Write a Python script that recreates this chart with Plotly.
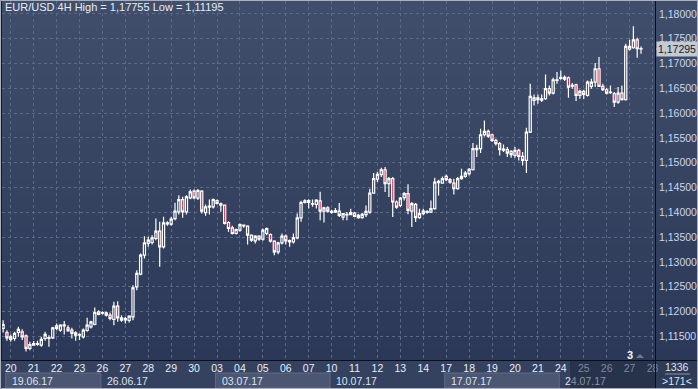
import plotly.graph_objects as go

# ---------------- data (EUR/USD, 4H bars) ----------------
opens = [1.11658, 1.11577, 1.11436, 1.11456, 1.11577, 1.11591, 1.11510, 1.11255, 1.11322, 1.11335,
         1.11322, 1.11456, 1.11456, 1.11470, 1.11711, 1.11624, 1.11711, 1.11671, 1.11624, 1.11570,
         1.11523, 1.11490, 1.11617, 1.11691, 1.11738, 1.11994, 1.11967, 1.11974, 1.11927, 1.11839,
         1.12108, 1.11873, 1.11833, 1.11819, 1.11893, 1.12498, 1.12753, 1.13136, 1.13371, 1.13392,
         1.13472, 1.13620, 1.13304, 1.13768, 1.13761, 1.13875, 1.14010, 1.14258, 1.14010, 1.14292,
         1.14426, 1.14285, 1.14426, 1.13996, 1.14104, 1.14111, 1.14238, 1.14171, 1.14144, 1.13795,
         1.13687, 1.13573, 1.13640, 1.13728, 1.13721, 1.13539, 1.13425, 1.13519, 1.13459, 1.13573,
         1.13553, 1.13419, 1.13203, 1.13385, 1.13519, 1.13432, 1.13405, 1.13486, 1.13889, 1.14232,
         1.14198, 1.14164, 1.14158, 1.14232, 1.14023, 1.14090, 1.13999, 1.14006, 1.14026, 1.13905,
         1.13946, 1.13952, 1.13986, 1.13939, 1.13892, 1.13952, 1.14006, 1.14389, 1.14671, 1.14759,
         1.14859, 1.14577, 1.14678, 1.14208, 1.14140, 1.14295, 1.14376, 1.14026, 1.14161, 1.13892,
         1.13972, 1.13999, 1.14006, 1.14073, 1.14597, 1.14591, 1.14725, 1.14658, 1.14591, 1.14476,
         1.14678, 1.14725, 1.14779, 1.14859, 1.15263, 1.15283, 1.15565, 1.15632, 1.15565, 1.15451,
         1.15384, 1.15256, 1.15263, 1.15229, 1.15148, 1.15250, 1.15128, 1.15046, 1.15619, 1.16257,
         1.16311, 1.16264, 1.16291, 1.16494, 1.16405, 1.16660, 1.16701, 1.16687, 1.16714, 1.16546,
         1.16573, 1.16358, 1.16439, 1.16358, 1.16539, 1.16627, 1.16896, 1.16539, 1.16472, 1.16412,
         1.16392, 1.16224, 1.16405, 1.16271, 1.17292, 1.17319, 1.17480, 1.17300]
highs = [1.11826, 1.11624, 1.11537, 1.11591, 1.11691, 1.11644, 1.11537, 1.11389, 1.11403, 1.11409,
         1.11490, 1.11591, 1.11523, 1.11691, 1.11759, 1.11745, 1.11806, 1.11725, 1.11671, 1.11604,
         1.11557, 1.11658, 1.11873, 1.11812, 1.12081, 1.12027, 1.12007, 1.11994, 1.11980, 1.12195,
         1.12209, 1.11927, 1.11893, 1.11927, 1.12531, 1.12834, 1.13170, 1.13519, 1.13506, 1.13539,
         1.13875, 1.13808, 1.13909, 1.13822, 1.13909, 1.14191, 1.14346, 1.14312, 1.14346, 1.14460,
         1.14460, 1.14470, 1.14447, 1.14158, 1.14258, 1.14279, 1.14258, 1.14198, 1.14158, 1.13822,
         1.13728, 1.13674, 1.13775, 1.13754, 1.13741, 1.13553, 1.13539, 1.13539, 1.13674, 1.13694,
         1.13573, 1.13439, 1.13405, 1.13573, 1.13553, 1.13452, 1.13573, 1.13976, 1.14232, 1.14265,
         1.14265, 1.14258, 1.14265, 1.14413, 1.14111, 1.14124, 1.14053, 1.14087, 1.14187, 1.13986,
         1.14006, 1.14073, 1.14006, 1.13972, 1.13986, 1.14140, 1.14476, 1.14792, 1.14812, 1.14900,
         1.14913, 1.14712, 1.14712, 1.14241, 1.14308, 1.14409, 1.14564, 1.14208, 1.14187, 1.14073,
         1.14073, 1.14040, 1.14241, 1.14698, 1.14658, 1.14725, 1.14765, 1.14691, 1.14678, 1.14712,
         1.14880, 1.14833, 1.14893, 1.15397, 1.15364, 1.15686, 1.15854, 1.15673, 1.15585, 1.15484,
         1.15417, 1.15370, 1.15316, 1.15250, 1.15316, 1.15283, 1.15216, 1.15706, 1.16593, 1.16378,
         1.16378, 1.16378, 1.16781, 1.16560, 1.16714, 1.16828, 1.16862, 1.16761, 1.16741, 1.16607,
         1.16593, 1.16472, 1.16472, 1.16660, 1.16694, 1.17010, 1.17131, 1.16593, 1.16506, 1.16560,
         1.16425, 1.16526, 1.16560, 1.17400, 1.17480, 1.17755, 1.17521, 1.17346]
lows = [1.11577, 1.11409, 1.11389, 1.11409, 1.11490, 1.11423, 1.11195, 1.11221, 1.11308, 1.11308,
        1.11288, 1.11409, 1.11288, 1.11443, 1.11624, 1.11591, 1.11537, 1.11591, 1.11456, 1.11409,
        1.11423, 1.11456, 1.11591, 1.11658, 1.11725, 1.11927, 1.11940, 1.11900, 1.11826, 1.11725,
        1.11792, 1.11792, 1.11759, 1.11779, 1.11826, 1.12431, 1.12733, 1.13069, 1.13304, 1.13351,
        1.13439, 1.12901, 1.13271, 1.13728, 1.13728, 1.13842, 1.13956, 1.13889, 1.13956, 1.14265,
        1.14265, 1.14250, 1.13976, 1.13929, 1.13956, 1.14077, 1.14158, 1.14010, 1.13754, 1.13607,
        1.13553, 1.13553, 1.13607, 1.13687, 1.13351, 1.13405, 1.13371, 1.13425, 1.13425, 1.13539,
        1.13392, 1.13136, 1.13156, 1.13351, 1.13351, 1.13304, 1.13371, 1.13459, 1.13808, 1.14178,
        1.14077, 1.14111, 1.14077, 1.13842, 1.13795, 1.13996, 1.13972, 1.13986, 1.13905, 1.13838,
        1.13838, 1.13939, 1.13905, 1.13872, 1.13872, 1.13905, 1.13972, 1.14376, 1.14611, 1.14712,
        1.14409, 1.14308, 1.13905, 1.14073, 1.14107, 1.14241, 1.13959, 1.13704, 1.13804, 1.13872,
        1.13939, 1.13972, 1.13986, 1.14053, 1.14342, 1.14577, 1.14631, 1.14577, 1.14362, 1.14456,
        1.14658, 1.14698, 1.14745, 1.14846, 1.15115, 1.15195, 1.15531, 1.15505, 1.15417, 1.15350,
        1.15148, 1.15216, 1.15115, 1.15101, 1.15101, 1.15046, 1.14947, 1.14792, 1.15599, 1.16156,
        1.16190, 1.16224, 1.16271, 1.16358, 1.16378, 1.16593, 1.16674, 1.16647, 1.16311, 1.16494,
        1.16244, 1.16291, 1.16291, 1.16338, 1.16494, 1.16526, 1.16526, 1.16445, 1.16378, 1.16392,
        1.16123, 1.16190, 1.16257, 1.16257, 1.17265, 1.17299, 1.17117, 1.17198]
closes = [1.11738, 1.11470, 1.11490, 1.11557, 1.11638, 1.11490, 1.11255, 1.11335, 1.11355, 1.11355,
          1.11436, 1.11537, 1.11476, 1.11671, 1.11658, 1.11725, 1.11732, 1.11611, 1.11557, 1.11523,
          1.11537, 1.11624, 1.11725, 1.11792, 1.11980, 1.11940, 1.11980, 1.11927, 1.11859, 1.12108,
          1.11873, 1.11826, 1.11859, 1.11907, 1.12478, 1.12767, 1.13136, 1.13385, 1.13439, 1.13486,
          1.13620, 1.13304, 1.13788, 1.13788, 1.13862, 1.14023, 1.14258, 1.14010, 1.14312, 1.14413,
          1.14292, 1.14440, 1.14023, 1.14111, 1.14124, 1.14258, 1.14178, 1.14144, 1.13775, 1.13674,
          1.13573, 1.13654, 1.13754, 1.13741, 1.13539, 1.13439, 1.13519, 1.13459, 1.13640, 1.13674,
          1.13419, 1.13203, 1.13385, 1.13519, 1.13425, 1.13405, 1.13486, 1.13889, 1.14198, 1.14198,
          1.14238, 1.14178, 1.14245, 1.14023, 1.14090, 1.14023, 1.14019, 1.14033, 1.13939, 1.13972,
          1.13959, 1.13993, 1.13919, 1.13892, 1.13959, 1.14019, 1.14389, 1.14678, 1.14765, 1.14859,
          1.14577, 1.14678, 1.14208, 1.14107, 1.14288, 1.14376, 1.14040, 1.14174, 1.13892, 1.13972,
          1.14026, 1.14019, 1.14073, 1.14611, 1.14624, 1.14678, 1.14658, 1.14611, 1.14476, 1.14678,
          1.14725, 1.14792, 1.14866, 1.15283, 1.15292, 1.15565, 1.15632, 1.15538, 1.15451, 1.15384,
          1.15263, 1.15276, 1.15195, 1.15162, 1.15250, 1.15128, 1.15046, 1.15619, 1.16338, 1.16311,
          1.16271, 1.16291, 1.16494, 1.16405, 1.16674, 1.16674, 1.16721, 1.16721, 1.16526, 1.16560,
          1.16358, 1.16439, 1.16378, 1.16627, 1.16627, 1.16896, 1.16539, 1.16472, 1.16405, 1.16425,
          1.16224, 1.16405, 1.16271, 1.17346, 1.17346, 1.17480, 1.17299, 1.17295]

day_labels = ["20", "21", "22", "23", "26", "27", "28", "29", "30", "03", "04", "05", "06", "07",
              "10", "11", "12", "13", "14", "17", "18", "19", "20", "21", "24", "25", "26", "27", "28"]
week_labels = ["19.06.17", "26.06.17", "03.07.17", "10.07.17", "17.07.17", "24.07.17"]
week_start_day = [None, 4, 9, 14, 19, 24]     # index in day_labels of each Monday
price_ticks = [1.115 + 0.005 * k for k in range(14)]
symbol = "EUR/USD"
timeframe = "4H"
bars_per_day = 6
first_day_bar = 2          # bars shown before the first labelled day (19.06 16:00, 20:00)
future_day = 25            # day labels from here on lie beyond the last bar
bar_count_text = "1336"
visible_bars_text = ">171<"
marker_text = "3"

# ---------------- geometry helpers (pixels -> paper) ----------------
W, H = 698, 389
PL, PR, PT, PB = 2, 655, 1, 360


def px(x):
    return (x - PL) / (PR - PL)


def py(y):
    return (PB - y) / (PB - PT)


def fmt(v):
    return f"{v:.5f}".replace(".", ",")


n = len(opens)
xs = list(range(n))
FONT = "Liberation Sans Narrow, Liberation Sans, Arial, sans-serif"

fig = go.Figure()
fig.add_trace(go.Candlestick(
    x=xs, open=opens, high=highs, low=lows, close=closes,
    increasing=dict(line=dict(color="#ffffff", width=1.2), fillcolor="rgba(0,0,0,0)"),
    decreasing=dict(line=dict(color="#ffffff", width=1.2), fillcolor="#e3173e"),
    whiskerwidth=0, hoverinfo="skip", showlegend=False,
))

shapes = []
# vertical gradient background
N = 60
top = (64, 78, 107)
bot = (43, 56, 87)
for j in range(N):
    t = j / (N - 1)
    c = tuple(round(top[k] + (bot[k] - top[k]) * t) for k in range(3))
    y0 = j * 360 / N
    y1 = (j + 1) * 360 / N + 0.5
    shapes.append(dict(type="rect", xref="paper", yref="paper", layer="below",
                       x0=px(0), x1=px(W), y0=py(y1), y1=py(y0),
                       fillcolor="rgb(%d,%d,%d)" % c, line=dict(width=0)))
# bottom rows background
shapes.append(dict(type="rect", xref="paper", yref="paper", layer="below",
                   x0=px(0), x1=px(PR), y0=py(H), y1=py(PB),
                   fillcolor="#34425f", line=dict(width=0)))
shapes.append(dict(type="rect", xref="paper", yref="paper", layer="below",
                   x0=px(PR), x1=px(W), y0=py(H), y1=py(PB),
                   fillcolor="#2e3b57", line=dict(width=0)))
# region beyond the last bar in the time scale
shapes.append(dict(type="rect", xref="paper", yref="paper", layer="below",
                   x0=px(570), x1=px(PR), y0=py(H), y1=py(PB),
                   fillcolor="#27324b", line=dict(width=0)))

# week boxes and labels
annotations = []
for k, lab in enumerate(week_labels):
    if week_start_day[k] is None:
        start = 0.7
    else:
        start = first_day_bar + bars_per_day * week_start_day[k] - 0.4
    if k + 1 < len(week_labels):
        end = first_day_bar + bars_per_day * week_start_day[k + 1] - 0.4
    else:
        end = 170.6
    if k % 2 == 0:
        shapes.append(dict(type="rect", xref="x", yref="paper", layer="below",
                           x0=start, x1=end, y0=py(388), y1=py(373),
                           fillcolor="#4a5672", line=dict(color="#5f6b86", width=1)))
    text = lab
    if k == len(week_labels) - 1:
        text = lab[0] + "<span style='color:#8a95a8'>" + lab[1:] + "</span>"
    annotations.append(dict(x=start + 1.1, y=py(380.5), xref="x", yref="paper",
                            text=text, showarrow=False, xanchor="left", yanchor="middle",
                            font=dict(family=FONT, size=10.5, color="#dde4ef")))

# separator lines
shapes.append(dict(type="line", xref="paper", yref="paper", layer="above",
                   x0=px(PR + 0.5), x1=px(PR + 0.5), y0=py(H), y1=py(0),
                   line=dict(color="#0b0f18", width=1)))
shapes.append(dict(type="line", xref="paper", yref="paper", layer="above",
                   x0=px(0), x1=px(W), y0=py(PB + 0.5), y1=py(PB + 0.5),
                   line=dict(color="#0b0f18", width=1)))
# window frame
shapes.append(dict(type="rect", xref="paper", yref="paper", layer="above",
                   x0=px(0.5), x1=px(W - 0.5), y0=py(H - 0.5), y1=py(0.5),
                   line=dict(color="#aab0ba", width=1)))
shapes.append(dict(type="line", xref="paper", yref="paper", layer="above",
                   x0=px(1.5), x1=px(1.5), y0=py(PB), y1=py(1),
                   line=dict(color="#141a26", width=1)))

# current price tag
last_close = closes[-1]
shapes.append(dict(type="path", xref="paper", yref="y", layer="above",
                   path="M %f %f L %f %f L %f %f Z" % (px(656), last_close, px(661), last_close + 0.0011,
                                                        px(661), last_close - 0.0011),
                   fillcolor="#c5c9d1", line=dict(width=0)))
annotations.append(dict(x=px(677), y=last_close, xref="paper", yref="y", text=fmt(last_close),
                        showarrow=False, xanchor="center", yanchor="middle",
                        bgcolor="#c5c9d1", borderpad=1,
                        font=dict(family=FONT, size=10.5, color="#121a2a")))

# title
title = "%s %s High = %s Low = %s" % (symbol, timeframe, fmt(max(highs)), fmt(min(lows)))
annotations.append(dict(x=px(3), y=py(7.5), xref="paper", yref="paper", text=title,
                        showarrow=False, xanchor="left", yanchor="middle",
                        font=dict(family=FONT, size=11, color="#e6ecf5")))

# bar counter texts
annotations.append(dict(x=px(677), y=py(367), xref="paper", yref="paper", text=bar_count_text,
                        showarrow=False, xanchor="center", yanchor="middle",
                        font=dict(family=FONT, size=10.5, color="#dfe6f2")))
annotations.append(dict(x=px(677), y=py(381), xref="paper", yref="paper", text=visible_bars_text,
                        showarrow=False, xanchor="center", yanchor="middle",
                        font=dict(family=FONT, size=10.5, color="#dfe6f2")))
shapes.append(dict(type="line", xref="paper", yref="paper", layer="above",
                   x0=px(665), x1=px(690), y0=py(374), y1=py(374),
                   line=dict(color="#8a94a6", width=1)))
# "3" marker
annotations.append(dict(x=px(630), y=py(355), xref="paper", yref="paper", text="<b>%s</b>" % marker_text,
                        showarrow=False, xanchor="center", yanchor="middle",
                        font=dict(family=FONT, size=11, color="#f0f4fa")))
shapes.append(dict(type="path", xref="paper", yref="paper", layer="above",
                   path="M %f %f L %f %f L %f %f Z" % (px(636), py(358), px(644), py(358), px(640), py(354)),
                   fillcolor="#6c7790", line=dict(width=0)))

tickvals = [first_day_bar + bars_per_day * k for k in range(len(day_labels))]
ticktext = [d if k < future_day else "<span style='color:#7f8a9e'>%s</span>" % d
            for k, d in enumerate(day_labels)]

grid = dict(showgrid=True, gridcolor="#5a6a8a", gridwidth=1, griddash="3px,3px",
            zeroline=False, ticks="", fixedrange=True)

fig.update_layout(
    width=W, height=H, autosize=False,
    margin=dict(l=PL, r=W - PR, t=PT, b=H - PB, pad=0),
    paper_bgcolor="#2b3857", plot_bgcolor="rgba(0,0,0,0)",
    showlegend=False, hovermode=False, boxgap=0.2,
    xaxis=dict(range=[-0.29, 170.66], tickvals=tickvals, ticktext=ticktext,
               tickfont=dict(family=FONT, size=10.5, color="#e8eef8"),
               rangeslider=dict(visible=False), showline=False, **grid),
    yaxis=dict(range=[1.11022, 1.18262], side="right", tickvals=price_ticks,
               ticktext=[fmt(v) for v in price_ticks], ticklabelstandoff=3,
               tickfont=dict(family=FONT, size=10.5, color="#c8d8f0"), showline=False, **grid),
    shapes=shapes, annotations=annotations,
)

fig.write_html("out.html", config={"displayModeBar": False, "staticPlot": True},
               post_script="document.body.style.margin='0';document.body.style.overflow='hidden';")
